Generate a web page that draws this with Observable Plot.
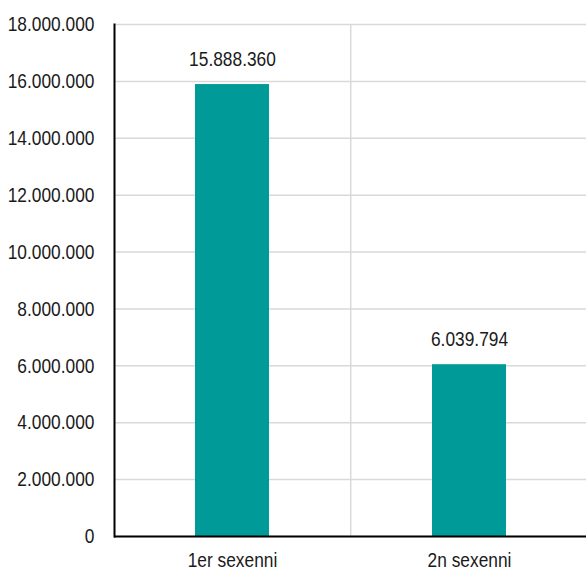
<!DOCTYPE html>
<html>
<head>
<meta charset="utf-8">
<script src="https://cdn.jsdelivr.net/npm/d3@7"></script>
<script src="https://cdn.jsdelivr.net/npm/@observablehq/plot@0.6"></script>
<style>
  body { margin: 0; background: #fff; }
  #chart svg { display: block; }
</style>
</head>
<body>
<div id="chart"></div>
<script>
// Categories and values
const categories = ["1er sexenni", "2n sexenni"];
const values = [15888360, 6039794];
const yTicks = [0, 2000000, 4000000, 6000000, 8000000, 10000000, 12000000, 14000000, 16000000, 18000000];

const data = categories.map((c, i) => ({category: c, value: values[i]}));

// Catalan number format: dot as thousands separator
const locale = d3.formatLocale({decimal: ",", thousands: ".", grouping: [3], currency: ["", " €"]});
const fmt = locale.format(",d");

const font = "'Liberation Sans', Arial, sans-serif";

// Vertical grid line between the two category bands
function bandDividers(index, scales, values, dimensions) {
  const x = scales.x;
  const g = d3.create("svg:g");
  const step = x.step(), pi = x.paddingInner();
  for (const c of categories.slice(1)) {
    const px = x(c) - (step * pi) / 2;
    g.append("line")
      .attr("x1", px).attr("x2", px)
      .attr("y1", dimensions.marginTop)
      .attr("y2", dimensions.height - dimensions.marginBottom)
      .attr("stroke", "#d9d9d9")
      .attr("stroke-width", 1.5);
  }
  return g.node();
}

const chart = Plot.plot({
  width: 586,
  height: 572,
  marginLeft: 114,
  marginRight: -2,
  marginTop: 24,
  marginBottom: 36,
  style: {fontFamily: font, fontSize: "21px", color: "#1a1a1a", background: "#fff"},
  x: {domain: categories, paddingInner: 0.686, paddingOuter: 0.343, label: null},
  y: {domain: [0, 18000000], label: null},
  marks: [
    Plot.gridY(yTicks, {stroke: "#d9d9d9", strokeOpacity: 1, strokeWidth: 1.5}),
    bandDividers,
    Plot.barY(data, {x: "category", y: "value", fill: "#009a98"}),
    Plot.text(data, {x: "category", y: "value", text: d => fmt(d.value), dy: -25, fontSize: 21, fill: "#1a1a1a"}),
    Plot.axisY(yTicks, {tickSize: 0, tickPadding: 20, tickFormat: fmt, fontSize: 21, label: null}),
    Plot.axisX({tickSize: 0, tickPadding: 16, fontSize: 21, label: null}),
    Plot.ruleY([0], {stroke: "#000", strokeWidth: 2}),
    Plot.frame({anchor: "left", stroke: "#000", strokeWidth: 2})
  ]
});

// Narrow lettering: compress each label horizontally about its own anchor point
chart.querySelectorAll("text").forEach(t => {
  const x0 = +(t.getAttribute("x") || 0);
  const base = t.getAttribute("transform") || "";
  t.setAttribute("transform", `${base} translate(${x0},0) scale(0.826,1) translate(${-x0},0)`.trim());
});

document.getElementById("chart").append(chart);
</script>
</body>
</html>
